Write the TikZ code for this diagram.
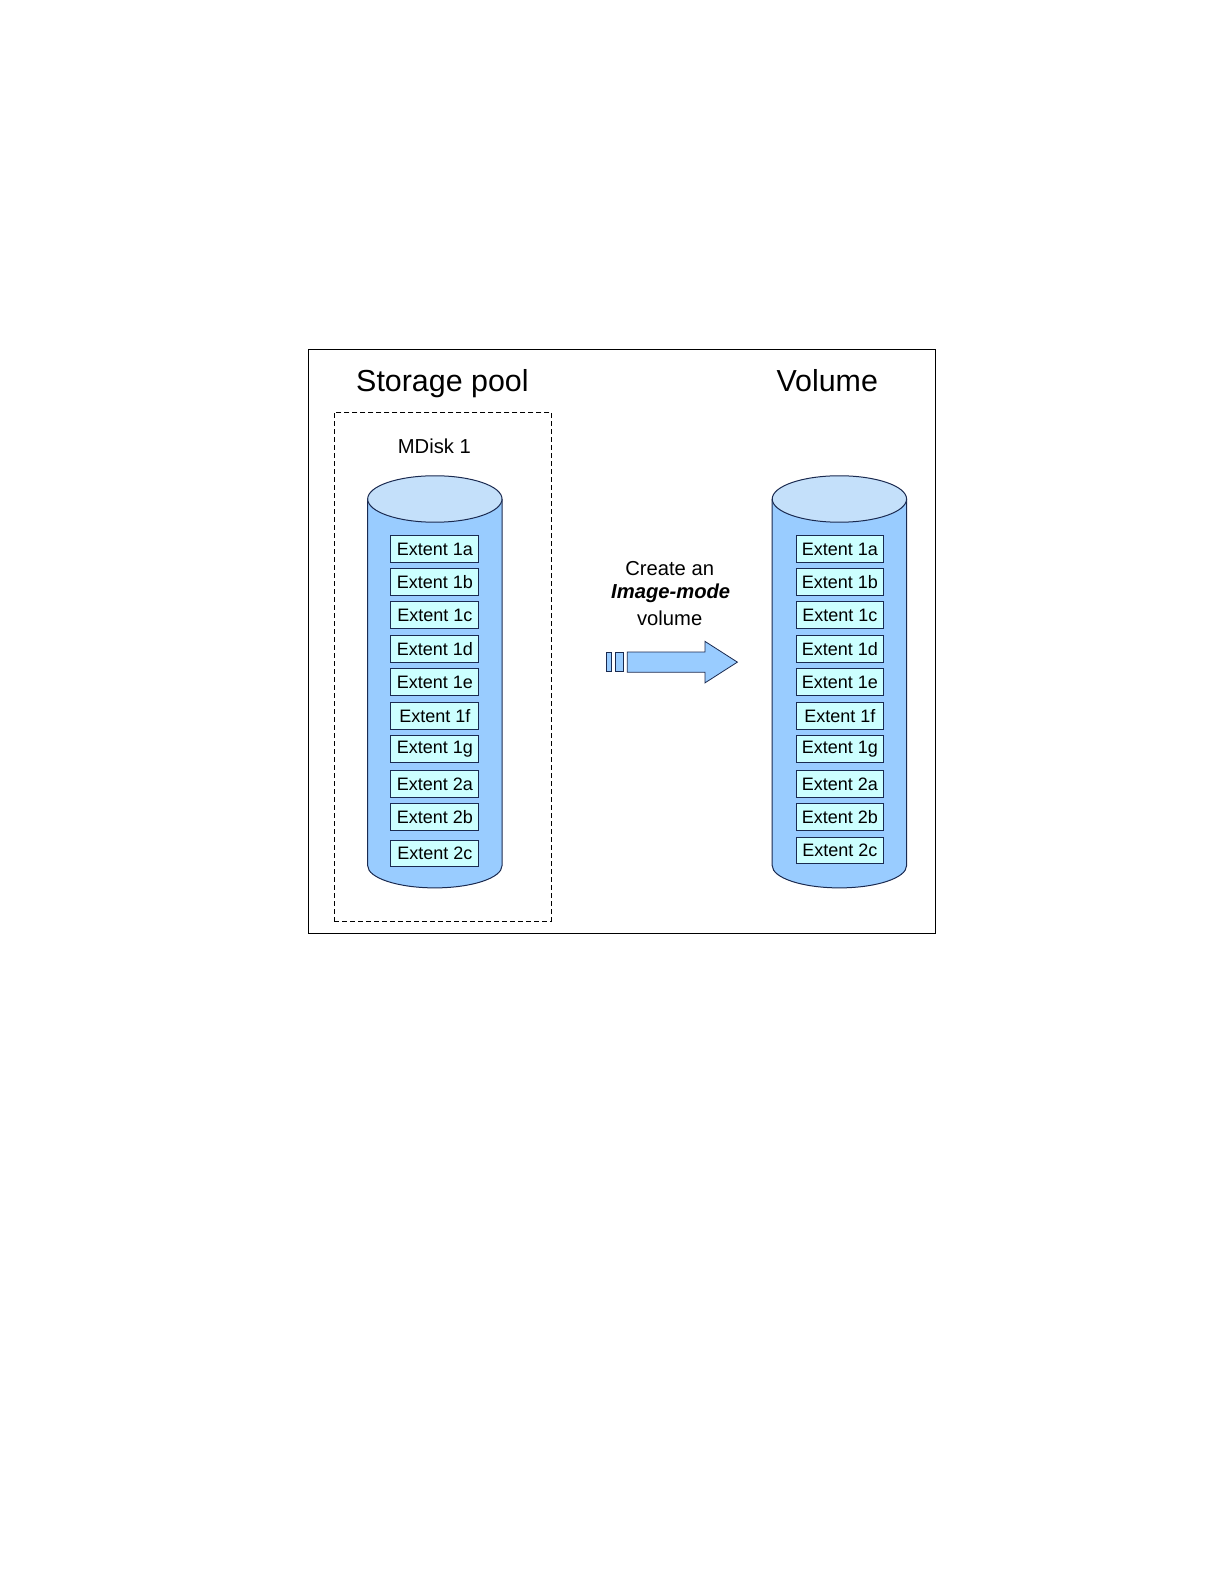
\documentclass[tikz,border=0pt]{standalone}
\usepackage{fontspec}
\setmainfont{Liberation Sans}
\definecolor{cylbody}{HTML}{99CCFF}
\definecolor{cyltop}{HTML}{C4E0FA}
\definecolor{extfill}{HTML}{CCFFFF}
\definecolor{edge}{HTML}{1A2A50}
\begin{document}
\begin{tikzpicture}
\useasboundingbox (0pt,0pt) rectangle (1224pt,-1584pt);
\fill[white] (0pt,0pt) rectangle (1224pt,-1584pt);
\begin{scope}[x=1.0101pt,y=-1.0101pt,
  extbox/.style={draw=edge,fill=extfill,line width=0.9pt,minimum width=87.9pt,minimum height=26.8pt,inner sep=0pt,font=\fontsize{18}{20}\selectfont},
  title/.style={font=\fontsize{30.4}{34}\selectfont},
  lbl/.style={font=\fontsize{20.2}{24}\selectfont},
  cylline/.style={draw=edge,line width=1pt}]
% outer frame
\node[draw=black,line width=0.9pt,minimum width=627pt,minimum height=584pt,inner sep=0pt] (frame) at (615.5,635) {};
\node[title,anchor=base] (sp) at (438,388) {Storage pool};
\node[title,anchor=base] (vol) at (819,388) {Volume};
\node[draw=black,dashed,dash pattern=on 5pt off 3pt,line width=0.9pt,minimum width=217pt,minimum height=509pt,inner sep=0pt] (mdbox) at (438.5,660) {};
\node[lbl] (md) at (430,442) {MDisk 1};
% cylinders
\foreach \cx/\nm in {430.5/L,831/R}{
  \fill[cylbody] (\cx,857) ellipse [x radius=66.5, y radius=22];
  \fill[cylbody] (\cx-66.5,494) rectangle (\cx+66.5,857);
  \draw[cylline] (\cx-66.5,494) -- (\cx-66.5,857) arc[start angle=180,end angle=0,x radius=66.5,y radius=22] -- (\cx+66.5,494);
  \draw[cylline,fill=cyltop] (\cx,494) ellipse [x radius=66.5, y radius=23];
}
% extents
\foreach \t/\y/\yr [count=\i] in {1a/543.5/543.5,1b/576.5/576.5,1c/609/609,1d/642.5/642.5,1e/675.5/675.5,1f/708.5/708.5,1g/741.5/741.5,2a/776/776,2b/809/809,2c/845/842}{
  \node[extbox] (L\i) at (430.5,\y) {Extent \t};
  \node[extbox] (R\i) at (831.5,\yr) {Extent \t};
}
% arrow text
\node[lbl] (t1) at (663,563) {Create an};
\node[lbl] (t2) at (664,587) {\bfseries\itshape Image-mode};
\node[lbl] (t3) at (663,612) {volume};
% arrow
\draw[edge,fill=cylbody,line width=0.8pt] (600.5,646) rectangle (605.5,665);
\draw[edge,fill=cylbody,line width=0.8pt] (609,646) rectangle (617,665);
\draw[edge,fill=cylbody,line width=0.8pt] (621,645.5) -- (698,645.5) -- (698,635) -- (730,655.5) -- (698,676) -- (698,665.5) -- (621,665.5) -- cycle;
\coordinate (arrowtip) at (730,655.5);
\end{scope}
\end{tikzpicture}
\end{document}
